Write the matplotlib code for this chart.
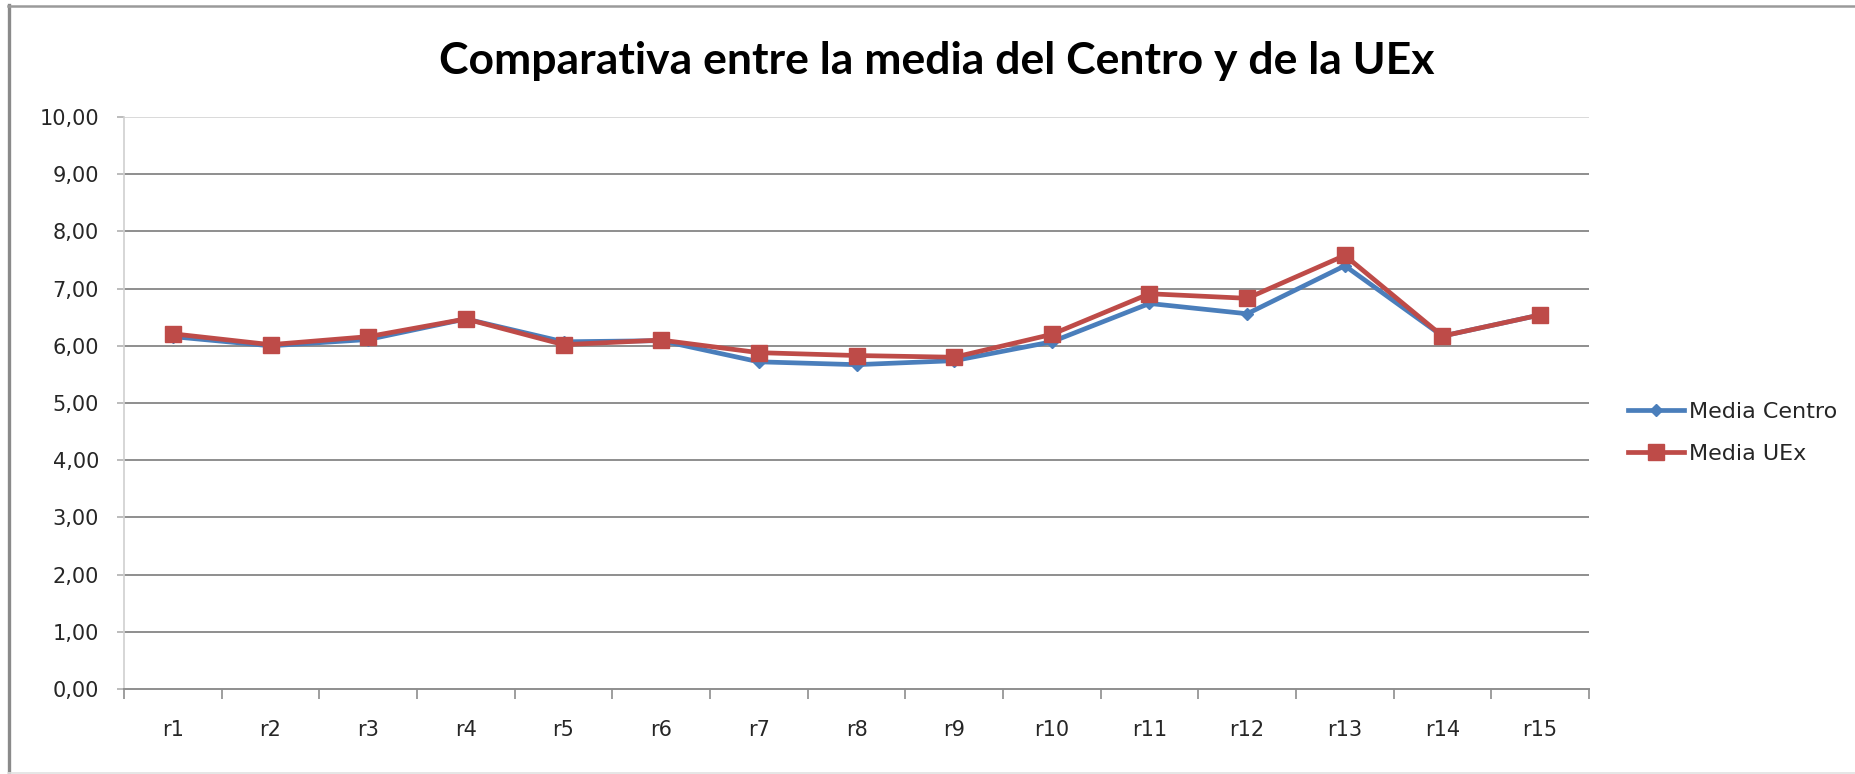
import matplotlib
matplotlib.use("Agg")
import matplotlib.pyplot as plt
from matplotlib.lines import Line2D

categories = ["r1", "r2", "r3", "r4", "r5", "r6", "r7", "r8", "r9", "r10",
              "r11", "r12", "r13", "r14", "r15"]
media_centro = [6.16, 6.00, 6.11, 6.47, 6.07, 6.09, 5.72, 5.67, 5.74, 6.07,
                6.74, 6.56, 7.40, 6.17, 6.54]
media_uex = [6.21, 6.02, 6.16, 6.47, 6.02, 6.10, 5.88, 5.83, 5.80, 6.20,
             6.91, 6.83, 7.58, 6.17, 6.54]
y_ticks = [0, 1, 2, 3, 4, 5, 6, 7, 8, 9, 10]
y_labels = ["0,00", "1,00", "2,00", "3,00", "4,00", "5,00", "6,00", "7,00",
            "8,00", "9,00", "10,00"]
title = "Comparativa entre la media del Centro y de la UEx"

plt.rcParams['font.family'] = ['DejaVu Sans']

W, H = 1856, 774
fig = plt.figure(figsize=(W / 100, H / 100), dpi=100)
fig.patch.set_facecolor("white")

def fx(px):
    return px / W

def fy(py):
    return 1 - py / H

# outer frame of the chart object (left, top strong; bottom faint)
fig.add_artist(Line2D([fx(9), fx(9)], [fy(5), fy(773)], transform=fig.transFigure,
                      color="#8a8a8a", linewidth=2.4))
fig.add_artist(Line2D([fx(8), fx(W)], [fy(6), fy(6)], transform=fig.transFigure,
                      color="#9a9a9a", linewidth=1.8))
fig.add_artist(Line2D([fx(8), fx(W)], [fy(772.5), fy(772.5)], transform=fig.transFigure,
                      color="#e2e2e2", linewidth=1.2))

left, right, top, bottom = 124, 1589, 117, 689
ax = fig.add_axes([left / W, 1 - bottom / H, (right - left) / W, (bottom - top) / H])

n = len(categories)
x = list(range(n))
ax.set_xlim(-0.5, n - 0.5)
ax.set_ylim(0, 10)

for yv in y_ticks[1:]:
    ax.axhline(yv, color="#d9d9d9" if yv == 10 else "#8e8e8e", linewidth=1.4, zorder=1)

ax.plot(x, media_centro, color="#4a7ebb", linewidth=3.4, marker="D",
        markersize=6.5, label="Media Centro", zorder=3)
ax.plot(x, media_uex, color="#be4b48", linewidth=3.4, marker="s",
        markersize=12, label="Media UEx", zorder=4)

for s in ["top", "right"]:
    ax.spines[s].set_visible(False)
ax.spines["left"].set_color("#d0d0d0")
ax.spines["left"].set_linewidth(1.2)
ax.spines["bottom"].set_color("#8e8e8e")
ax.spines["bottom"].set_linewidth(1.4)

ax.set_yticks(y_ticks)
ax.set_yticklabels(y_labels, fontsize=15, color="#262626")
ax.tick_params(axis="y", length=5, width=1.2, color="#b0b0b0", pad=13)

ax.set_xticks(x)
ax.set_xticklabels(categories, fontsize=15, color="#262626")
ax.tick_params(axis="x", length=0, pad=22)
ax.set_xticks([i - 0.5 for i in range(n + 1)], minor=True)
ax.tick_params(axis="x", which="minor", length=7, width=1.2, color="#8e8e8e")

fig.text(fx(937), fy(74), title, ha="center", va="baseline",
         fontsize=32, fontweight="bold", color="#000000", family=["Lato", "DejaVu Sans"])

handles, labels = ax.get_legend_handles_labels()
fig.legend(handles, labels, loc="center left",
           bbox_to_anchor=(fx(1628), fy(433)), frameon=False,
           fontsize=16, handlelength=2.5, handletextpad=0.25,
           labelspacing=1.0, labelcolor="#262626",
           borderpad=0, borderaxespad=0)

fig.savefig("out.png", dpi=100, facecolor="white")
